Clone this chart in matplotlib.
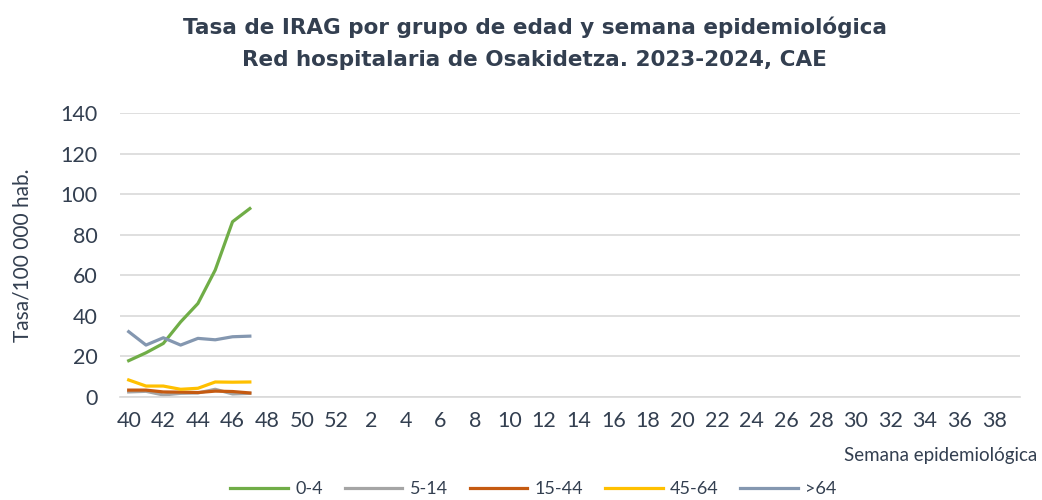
import numpy as np
import matplotlib
matplotlib.use("Agg")
import matplotlib.pyplot as plt

# ----------------------------
# Data
# ----------------------------

weeks = [str(w) for w in list(range(40, 53)) + list(range(1, 40))]

series_names = ["0-4", "5-14", "15-44", "45-64", ">64"]
colors = ["#70AD47", "#A5A5A5", "#C55A11", "#FFC000", "#8497B0"]

rate_0_4 = [17.9, 21.8, 26.4, 37.0, 46.1, 62.6, 86.4, 92.9]
rate_5_14 = [2.5, 2.8, 1.0, 1.8, 2.0, 3.8, 1.5, 1.8]
rate_15_44 = [3.4, 3.4, 2.5, 2.4, 2.2, 2.9, 2.7, 2.0]
rate_45_64 = [8.4, 5.4, 5.4, 3.8, 4.3, 7.4, 7.3, 7.4]
rate_64 = [32.2, 25.6, 29.2, 25.6, 28.9, 28.2, 29.7, 30.0]

all_rates = [rate_0_4, rate_5_14, rate_15_44, rate_45_64, rate_64]

# ----------------------------
# Plot
# ----------------------------

plt.rcParams["font.family"] = ["Lato", "DejaVu Sans"]
txt_col = "#333F50"

fig = plt.figure(figsize=(10.42, 5), dpi=100)
ax = fig.add_axes([0.1152, 0.206, 0.8637, 0.568])

x = np.arange(len(weeks))
for name, col, vals in zip(series_names, colors, all_rates):
    ax.plot(x[:len(vals)], vals, color=col, lw=2.3, label=name)

ax.set_xlim(-0.5, len(weeks) - 0.5)
ax.set_ylim(0, 140)
ax.set_yticks(range(0, 141, 20))
ax.set_xticks(x[::2])
ax.set_xticklabels(weeks[::2])
ax.tick_params(axis="both", length=0, labelsize=15.5, colors=txt_col)
ax.tick_params(axis="y", pad=16)
ax.tick_params(axis="x", pad=10)
ax.yaxis.grid(True, color="#D9D9D9", lw=1.2)
ax.set_axisbelow(True)
for s in ["top", "right", "left"]:
    ax.spines[s].set_visible(False)
ax.spines["bottom"].set_color("#D9D9D9")
ax.spines["bottom"].set_linewidth(1.2)

ax.set_ylabel("Tasa/100 000 hab.", fontsize=15, color=txt_col)
ax.yaxis.set_label_coords(-0.097, 0.5)
fig.text(0.995, 0.09, "Semana epidemiológica", ha="right", va="center",
         fontsize=13.5, color=txt_col)

fig.text(0.513, 0.945, "Tasa de IRAG por grupo de edad y semana epidemiológica",
         ha="center", va="center", fontsize=15.5, fontweight="bold",
         color=txt_col, family=["DejaVu Sans"])
fig.text(0.513, 0.88, "Red hospitalaria de Osakidetza. 2023-2024, CAE",
         ha="center", va="center", fontsize=15.5, fontweight="bold",
         color=txt_col, family=["DejaVu Sans"])

fig.legend(loc="center", bbox_to_anchor=(0.512, 0.022), ncol=5, frameon=False,
           fontsize=13, handlelength=3.2, columnspacing=1.2, handletextpad=0.4,
           labelcolor=txt_col)

fig.savefig("out.png", dpi=100)
